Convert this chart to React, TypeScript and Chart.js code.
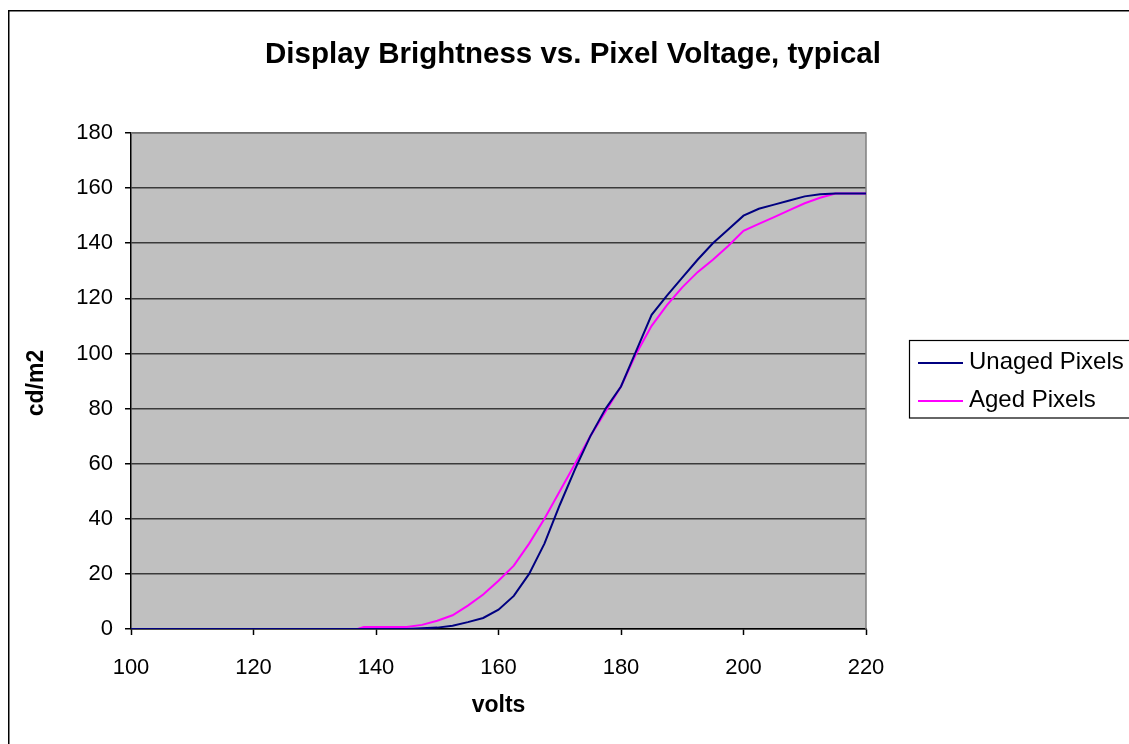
import React, { useEffect, useRef } from "react";
import { Chart, registerables } from "chart.js";

Chart.register(...registerables);

const chartTitle = "Display Brightness vs. Pixel Voltage, typical";
const xAxisTitle = "volts";
const yAxisTitle = "cd/m2";
const seriesNames = ["Unaged Pixels", "Aged Pixels"];

const xTicks = [100, 120, 140, 160, 180, 200, 220];
const yTicks = [0, 20, 40, 60, 80, 100, 120, 140, 160, 180];

const unagedVolts = [100, 145, 150, 152.5, 155, 157.5, 160, 162.5, 165, 167.5, 170, 172.5, 175, 177.5, 180, 182.5, 185, 187.5, 190, 192.5, 195, 197.5, 200, 202.5, 205, 207.5, 210, 212.5, 215, 220];
const unagedBrightness = [0, 0, 0.5, 1.2, 2.5, 4, 7, 12, 20, 31, 45, 58, 70, 80, 88, 101, 114, 121, 127.5, 134, 140, 145, 150, 152.5, 154, 155.5, 157, 157.8, 158, 158];

const agedVolts = [100, 137, 138, 145, 147.5, 150, 152.5, 155, 157.5, 160, 162.5, 165, 167.5, 170, 172.5, 175, 177.5, 180, 182.5, 185, 187.5, 190, 192.5, 195, 197.5, 200, 202.5, 205, 207.5, 210, 212.5, 215, 220];
const agedBrightness = [0, 0, 0.7, 0.7, 1.5, 3, 5, 8.5, 12.5, 17.5, 23, 31, 40, 50, 60, 70, 79, 88, 100, 110, 117.5, 124, 129.5, 134, 139, 144.5, 147, 149.5, 152, 154.5, 156.5, 158, 158];

const seriesColors = ["#000080", "#FF00FF"];

const FONT = "'Liberation Sans', Arial, sans-serif";

const decorPlugin = {
  id: "decor",
  beforeDraw(chart: any) {
    const { ctx, chartArea: a } = chart;
    ctx.save();
    ctx.fillStyle = "#ffffff";
    ctx.fillRect(0, 0, chart.width, chart.height);
    ctx.fillStyle = "#C0C0C0";
    ctx.fillRect(a.left, a.top, a.right - a.left, a.bottom - a.top);
    ctx.restore();
  },
  beforeDatasetsDraw(chart: any) {
    const { ctx, chartArea: a } = chart;
    ctx.save();
    ctx.strokeStyle = "#808080";
    ctx.lineWidth = 1.5;
    ctx.beginPath();
    ctx.moveTo(a.left, a.top);
    ctx.lineTo(a.right, a.top);
    ctx.lineTo(a.right, a.bottom);
    ctx.stroke();
    ctx.restore();
  },
  afterDraw(chart: any) {
    const { ctx, chartArea: a } = chart;
    ctx.save();
    // outer border
    ctx.strokeStyle = "#000";
    ctx.lineWidth = 1.5;
    ctx.strokeRect(8.75, 10.75, 1300, 900);
    // title
    ctx.fillStyle = "#000";
    ctx.font = `bold 29.5px ${FONT}`;
    ctx.textAlign = "center";
    ctx.textBaseline = "middle";
    ctx.fillText(chartTitle, 573, 55);
    // axis titles
    ctx.font = `bold 23px ${FONT}`;
    ctx.fillText(xAxisTitle, (a.left + a.right) / 2, 706);
    ctx.save();
    ctx.translate(37, 383);
    ctx.rotate(-Math.PI / 2);
    ctx.fillText(yAxisTitle, 0, 0);
    ctx.restore();
    // legend
    ctx.strokeStyle = "#000";
    ctx.lineWidth = 1.2;
    ctx.strokeRect(909.5, 340.5, 400, 77.5);
    const rows = [362, 400];
    chart.data.datasets.forEach((ds: any, i: number) => {
      ctx.strokeStyle = ds.borderColor;
      ctx.lineWidth = 2;
      ctx.beginPath();
      ctx.moveTo(918, rows[i] + 1);
      ctx.lineTo(963, rows[i] + 1);
      ctx.stroke();
      ctx.fillStyle = "#000";
      ctx.font = `24px ${FONT}`;
      ctx.textAlign = "left";
      ctx.textBaseline = "middle";
      ctx.fillText(ds.label, 969, rows[i]);
    });
    ctx.restore();
  },
};

export default function App() {
  const ref = useRef<HTMLCanvasElement>(null);
  useEffect(() => {
    if (!ref.current) return;
    const toPts = (xs: number[], ys: number[]) => xs.map((x, i) => ({ x, y: ys[i] }));
    const chart = new Chart(ref.current, {
      type: "scatter",
      data: {
        datasets: [
          {
            label: seriesNames[0],
            data: toPts(unagedVolts, unagedBrightness),
            showLine: true,
            borderColor: seriesColors[0],
            backgroundColor: seriesColors[0],
            borderWidth: 2,
            pointRadius: 0,
            tension: 0,
          },
          {
            label: seriesNames[1],
            data: toPts(agedVolts, agedBrightness),
            showLine: true,
            borderColor: seriesColors[1],
            backgroundColor: seriesColors[1],
            borderWidth: 2,
            pointRadius: 0,
            tension: 0,
          },
        ],
      },
      options: {
        responsive: false,
        animation: false,
        devicePixelRatio: 1,
        layout: { padding: { left: 31, right: 263, top: 133, bottom: 25 } },
        plugins: {
          legend: { display: false },
          title: { display: false },
          tooltip: { enabled: false },
        },
        scales: {
          x: {
            type: "linear",
            min: xTicks[0],
            max: xTicks[xTicks.length - 1],
            afterBuildTicks: (s: any) => {
              s.ticks = xTicks.map((v) => ({ value: v }));
            },
            afterFit: (s: any) => {
              s.height = 90;
            },
            grid: {
              drawOnChartArea: false,
              drawTicks: true,
              tickLength: 6,
              tickColor: "#000",
              tickWidth: 1.5,
            },
            border: { display: true, color: "#000", width: 1.5 },
            ticks: {
              color: "#000",
              padding: 20,
              maxRotation: 0,
              font: { family: FONT, size: 22 },
            },
          },
          y: {
            type: "linear",
            min: yTicks[0],
            max: yTicks[yTicks.length - 1],
            afterBuildTicks: (s: any) => {
              s.ticks = yTicks.map((v) => ({ value: v }));
            },
            afterFit: (s: any) => {
              s.width = 100;
            },
            grid: {
              drawOnChartArea: true,
              color: "#3a3a3a",
              lineWidth: 1.5,
              drawTicks: true,
              tickLength: 6,
              tickColor: "#000",
              tickWidth: 1.5,
            },
            border: { display: true, color: "#000", width: 1.5 },
            ticks: {
              color: "#000",
              padding: 12,
              font: { family: FONT, size: 22 },
            },
          },
        },
      },
      plugins: [decorPlugin],
    });
    return () => chart.destroy();
  }, []);
  return (
    <div style={{ position: "absolute", left: 0, top: 0, width: 1129, height: 744 }}>
      <canvas ref={ref} width={1129} height={744} style={{ display: "block" }} />
    </div>
  );
}
